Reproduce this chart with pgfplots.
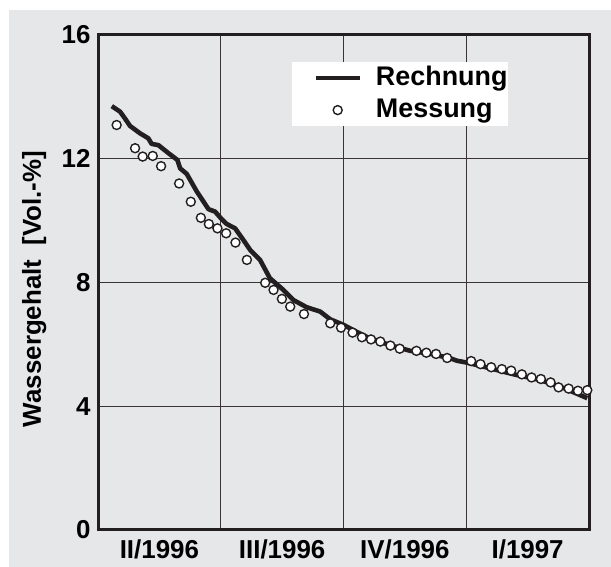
\documentclass[border=0pt]{standalone}
\usepackage{fontspec}
\setmainfont{Liberation Sans}
\usepackage{pgfplots}
\pgfplotsset{compat=1.18}
\definecolor{bggray}{RGB}{230,231,232}
\definecolor{ink}{RGB}{35,31,32}

\begin{document}
\begin{tikzpicture}[x=1bp,y=1bp]
\useasboundingbox (0,0) rectangle (611,567);
\fill[bggray] (9,0) rectangle (611,557);
\begin{axis}[
  at={(98bp,37bp)}, anchor=south west,
  scale only axis, width=491bp, height=495bp,
  xmin=0, xmax=4, ymin=0, ymax=16,
  font=\fontsize{26}{31}\selectfont\bfseries,
  /pgf/number format/assume math mode=true,
  axis line style={ink, line width=3bp},
  major tick length=0pt,
  ytick={0,4,8,12,16},
  yticklabel style={xshift=-4bp},
  xtick={1,2,3}, xticklabels={},
  extra x ticks={0.5,1.5,2.5,3.5},
  extra x tick labels={II/1996,III/1996,IV/1996,I/1997},
  extra x tick style={grid=none, xticklabel style={yshift=-6bp}},
  xmajorgrids, ymajorgrids,
  grid style={ink!90, line width=1.3bp},
  ylabel={Wassergehalt\ \ [Vol.-\%]},
  ylabel style={at={(axis description cs:-0.130,0.487)}, anchor=center},
  legend style={at={(axis cs:1.582,15.13)}, anchor=north west,
    fill=white, draw=none, inner xsep=0pt, inner ysep=0pt,
    font=\fontsize{27}{32}\selectfont\bfseries,
    nodes={inner sep=0pt, text height=23bp, text depth=9bp},
    column sep=11bp},
  legend cell align=left,
  legend image code/.code={\path (-21bp,0) (47bp,0);
    \draw[mark repeat=2,mark phase=2,#1] plot coordinates {(0bp,0bp) (22bp,0bp) (44bp,0bp)};},
]
\addplot[ink, line width=4.6bp, line join=round] coordinates {
(0.112,13.70) (0.18,13.52) (0.22,13.30) (0.261,13.06) (0.343,12.82)
(0.41,12.66) (0.437,12.48) (0.492,12.44) (0.574,12.18) (0.647,11.96)
(0.669,11.69) (0.723,11.51) (0.805,10.94) (0.90,10.37) (0.954,10.29)
(1.009,10.04) (1.049,9.89) (1.117,9.75) (1.185,9.37) (1.24,9.05)
(1.32,8.73) (1.40,8.14) (1.51,7.76) (1.593,7.43) (1.70,7.20)
(1.81,7.06) (1.892,6.81) (2.0,6.63) (2.1,6.42) (2.2,6.22)
(2.3,6.08) (2.4,5.95) (2.545,5.79) (2.7,5.70) (2.871,5.55)
(2.925,5.47) (3.007,5.41) (3.2,5.22) (3.4,5.02) (3.6,4.85)
(3.8,4.58) (3.986,4.26)
};
\addlegendentry{Rechnung}
\addplot[only marks, mark=*, mark size=4.5bp,
  mark options={draw=ink, fill=white, line width=1.4bp}] coordinates {
(0.152,13.09) (0.302,12.34) (0.364,12.07) (0.446,12.09) (0.514,11.76)
(0.661,11.20) (0.756,10.61) (0.838,10.09) (0.903,9.89) (0.973,9.75)
(1.044,9.59) (1.12,9.29) (1.213,8.73) (1.362,7.99) (1.43,7.76)
(1.498,7.47) (1.566,7.22) (1.678,6.98) (1.892,6.68) (1.98,6.54)
(2.074,6.38) (2.15,6.23) (2.224,6.16) (2.30,6.09) (2.382,5.96)
(2.458,5.86) (2.594,5.79) (2.675,5.73) (2.754,5.69) (2.844,5.56)
(3.04,5.46) (3.116,5.36) (3.203,5.26) (3.29,5.20) (3.366,5.15)
(3.453,5.03) (3.532,4.93) (3.608,4.88) (3.687,4.77) (3.752,4.61)
(3.834,4.57) (3.91,4.50) (3.986,4.52)
};
\addlegendentry{Messung}
\end{axis}
\end{tikzpicture}
\end{document}
